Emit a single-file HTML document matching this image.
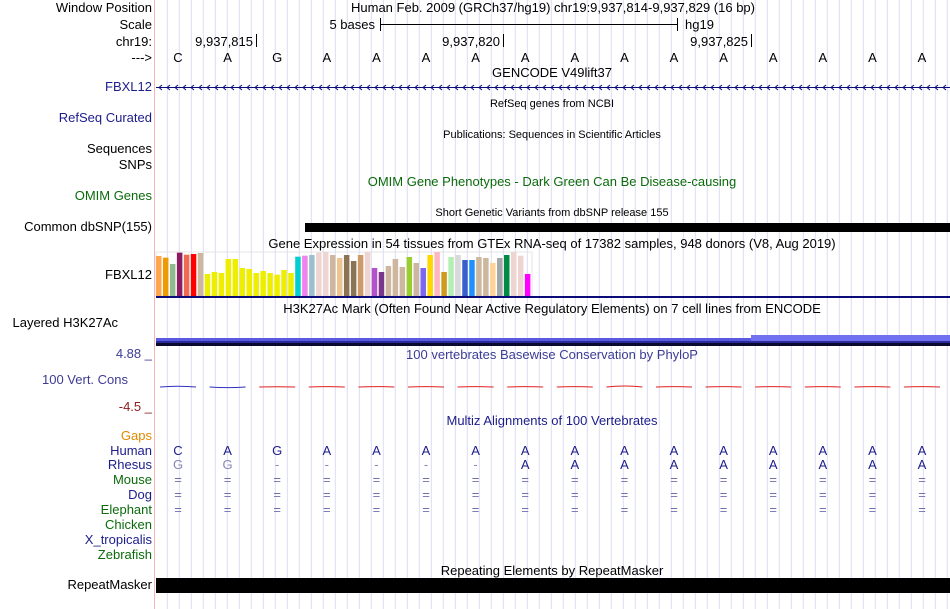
<!DOCTYPE html>
<html><head><meta charset="utf-8"><style>
html,body{margin:0;padding:0;background:#fff}
svg{display:block;font-family:"Liberation Sans",sans-serif}
</style></head><body>
<svg id="c" width="950" height="609" xmlns="http://www.w3.org/2000/svg">
<rect width="950" height="609" fill="#fff"/>
<g id="grid"></g>
<line x1="154.5" y1="0" x2="154.5" y2="609" stroke="#f9b4b4"/>
<g font-size="13" text-anchor="end" id="labels">
<text x="152" y="12" fill="#000">Window Position</text>
<text x="152" y="29" fill="#000">Scale</text>
<text x="152" y="46" fill="#000">chr19:</text>
<text x="152" y="62" fill="#000">---&gt;</text>
<text x="152" y="91" fill="#1c1c8c">FBXL12</text>
<text x="152" y="122" fill="#1c1c8c">RefSeq Curated</text>
<text x="152" y="153" fill="#000">Sequences</text>
<text x="152" y="169" fill="#000">SNPs</text>
<text x="152" y="200" fill="#0b6b0b">OMIM Genes</text>
<text x="152" y="231" fill="#000">Common dbSNP(155)</text>
<text x="152" y="279" fill="#000">FBXL12</text>
<text x="118" y="327" fill="#000">Layered H3K27Ac</text>
<text x="152" y="358" fill="#3c3c96">4.88 _</text>
<text x="128" y="384" fill="#3c3c96">100 Vert. Cons</text>
<text x="152" y="411" fill="#8c1c1c">-4.5 _</text>
<text x="152" y="440" fill="#e08a00">Gaps</text>
<text x="152" y="455" fill="#1c1c8c">Human</text>
<text x="152" y="469" fill="#1c1c8c">Rhesus</text>
<text x="152" y="484" fill="#0b6b0b">Mouse</text>
<text x="152" y="499" fill="#1c1c8c">Dog</text>
<text x="152" y="514" fill="#0b6b0b">Elephant</text>
<text x="152" y="529" fill="#0b6b0b">Chicken</text>
<text x="152" y="544" fill="#1c1c8c">X_tropicalis</text>
<text x="152" y="559" fill="#0b6b0b">Zebrafish</text>
<text x="152" y="589" fill="#000">RepeatMasker</text>
</g>
<g font-size="13" text-anchor="middle">
<text x="553" y="12">Human Feb. 2009 (GRCh37/hg19)   chr19:9,937,814-9,937,829 (16 bp)</text>
<text x="552" y="77">GENCODE V49lift37</text>
<text x="552" y="107" font-size="11">RefSeq genes from NCBI</text>
<text x="552" y="138" font-size="11">Publications: Sequences in Scientific Articles</text>
<text x="552" y="186" fill="#0b6b0b">OMIM Gene Phenotypes - Dark Green Can Be Disease-causing</text>
<text x="552" y="216" font-size="11">Short Genetic Variants from dbSNP release 155</text>
<text x="552" y="248">Gene Expression in 54 tissues from GTEx RNA-seq of 17382 samples, 948 donors (V8, Aug 2019)</text>
<text x="552" y="313">H3K27Ac Mark (Often Found Near Active Regulatory Elements) on 7 cell lines from ENCODE</text>
<text x="552" y="359" fill="#3c3c96">100 vertebrates Basewise Conservation by PhyloP</text>
<text x="552" y="425" fill="#1c1c8c">Multiz Alignments of 100 Vertebrates</text>
<text x="552" y="575">Repeating Elements by RepeatMasker</text>
</g>
<g font-size="13">
<text x="375" y="29" text-anchor="end">5 bases</text>
<line x1="380" y1="24.5" x2="678" y2="24.5" stroke="#000"/>
<line x1="380.5" y1="18" x2="380.5" y2="31" stroke="#000"/>
<line x1="677.5" y1="18" x2="677.5" y2="31" stroke="#000"/>
<text x="685" y="29">hg19</text>
<text x="253" y="46" text-anchor="end">9,937,815</text><line x1="256.5" y1="34" x2="256.5" y2="47" stroke="#000"/>
<text x="500" y="46" text-anchor="end">9,937,820</text><line x1="503.5" y1="34" x2="503.5" y2="47" stroke="#000"/>
<text x="748" y="46" text-anchor="end">9,937,825</text><line x1="751.5" y1="34" x2="751.5" y2="47" stroke="#000"/>
</g>
<g id="bases" font-size="13" text-anchor="middle"></g>
<g id="gene"></g>
<rect x="305" y="223" width="645" height="9" fill="#000"/>
<rect x="156" y="252" width="376" height="44" fill="none" stroke="#e4e4e4" stroke-width="1"/>
<g id="gtex"></g>
<rect x="156" y="296" width="794" height="2" fill="#0c0c78"/>
<g>
<rect x="156" y="338" width="595" height="4" fill="#5a5ae0"/>
<rect x="751" y="335" width="199" height="7" fill="#7070f0"/>
<rect x="156" y="341" width="794" height="2" fill="#2a2a9a"/>
<rect x="156" y="343" width="794" height="3" fill="#0a0a30"/>
</g>
<g id="cons"></g>
<g id="maf" font-size="13" text-anchor="middle"></g>
<rect x="156" y="578" width="794" height="15" fill="#000"/>
</svg>
<script>
const NS="http://www.w3.org/2000/svg";
const bases=["C","A","G","A","A","A","A","A","A","A","A","A","A","A","A","A"];
const rhesus=["G","G","-","-","-","-","-","A","A","A","A","A","A","A","A","A"];
const gtexValues=[120,115,96,130,124,126,129,66,72,69,111,111,84,81,69,75,69,64,78,69,118,121,123,130,132,123,114,123,105,123,132,84,72,90,111,87,117,99,84,123,132,72,117,123,108,108,117,114,99,114,123,132,121,66];
const gtexColors=["#FFA54F","#EE9A00","#8FBC8F","#8B1C62","#EE6A50","#FF0000","#CDB79E","#EEEE00","#EEEE00","#EEEE00","#EEEE00","#EEEE00","#EEEE00","#EEEE00","#EEEE00","#EEEE00","#EEEE00","#EEEE00","#EEEE00","#EEEE00","#00CED1","#EE82EE","#9AC0CD","#EED5D2","#EED5D2","#CDB79E","#EEC591","#8B7355","#8B7355","#CD9B69","#EED5D2","#B452CD","#7A378B","#CDB79E","#CDB79E","#CDB79E","#9ACD32","#CDB79E","#7B68EE","#FFD700","#FFB6C1","#CD9B1D","#B4EEB4","#D9D9D9","#3A5FCD","#1E90FF","#CDB79E","#CDB79E","#FFD39B","#A6A6A6","#008B45","#EED5D2","#EED5D2","#FF00FF"];
const consValues=[0.4,-0.3,0.1,0.2,0.2,0.2,0.2,0.2,0.2,0.5,0.2,0.2,0.2,0.2,0.2,0.2];
const gtexMax=132;
function mk(t,a,p){const e=document.createElementNS(NS,t);for(const k in a)e.setAttribute(k,a[k]);p.appendChild(e);return e;}
const bx=i=>178+49.6*i;
const gy=v=>296-v/gtexMax*44;
const cy=v=>387-v*4;
const g=document.getElementById('grid');
for(let x=167.3;x<950;x+=12){const l=mk('line',{x1:x,y1:0,x2:x,y2:609,stroke:'#dcdcf4'},g);

}
const B=document.getElementById('bases'),M=document.getElementById('maf'),C=document.getElementById('cons');
bases.forEach((b,i)=>{
 const t=mk('text',{x:bx(i),y:62},B);t.textContent=b;
 
 
 const h=mk('text',{x:bx(i),y:455,fill:'#1c1c8c'},M);h.textContent=b;
 
 
 const r=mk('text',{x:bx(i),y:469,fill:rhesus[i]==='A'?'#1c1c8c':'#8888b8'},M);r.textContent=rhesus[i];
 
 
 [484,499,514].forEach(y=>{const e=mk('text',{x:bx(i),y:y,fill:'#7070b0'},M);e.textContent='=';
 
 });
 const v=consValues[i];
 const p=mk('path',{d:`M${bx(i)-18},387 Q${bx(i)},${cy(v)} ${bx(i)+18},387`,fill:'none',stroke:v>=0&&i>1?'#e02020':'#3030c0','stroke-width':1},C);
 
 
});
const G=document.getElementById('gene');
mk('line',{x1:156,y1:87.5,x2:950,y2:87.5,stroke:'#0c0c78'},G);
for(let x=158;x<948;x+=8){mk('path',{d:`M${x+4},85 L${x+1},87.5 L${x+4},90`,fill:'none',stroke:'#0c0c78'},G);}
const T=document.getElementById('gtex');
gtexValues.forEach((v,i)=>{const r=mk('rect',{x:156+i*6.96,y:gy(v),width:5.5,height:296-gy(v),fill:gtexColors[i]},T);

});
</script>
</body></html>
